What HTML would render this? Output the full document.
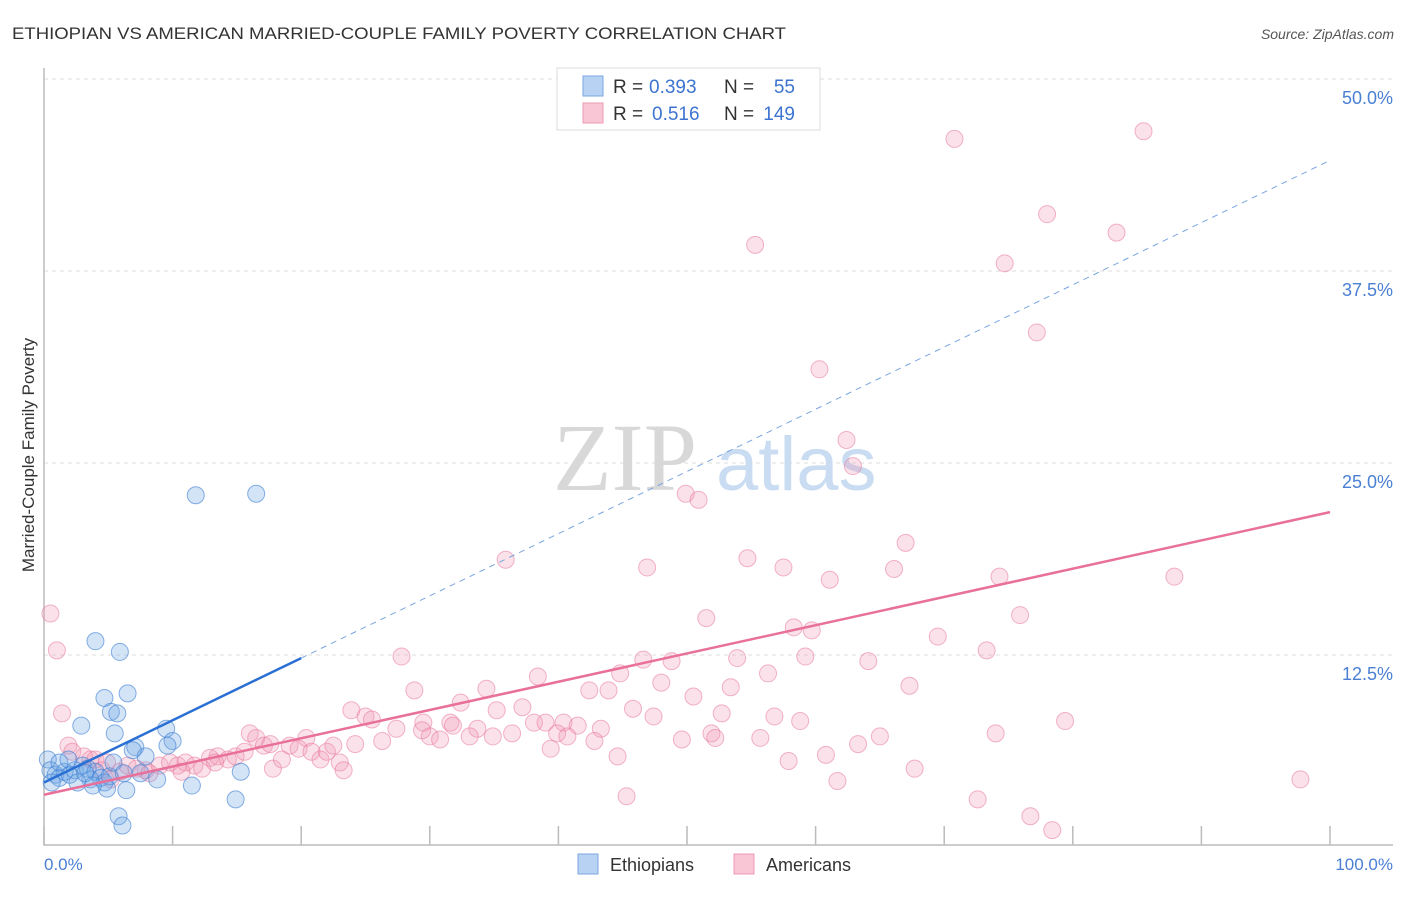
<!DOCTYPE html>
<html><head><meta charset="utf-8"><style>
body{margin:0;background:#fff;font-family:"Liberation Sans",sans-serif}
</style></head><body>
<svg id="c" width="1406" height="892" xmlns="http://www.w3.org/2000/svg" style="font-family:'Liberation Sans',sans-serif">
<text x="12" y="39" font-size="17" fill="#333" textLength="774" lengthAdjust="spacingAndGlyphs">ETHIOPIAN VS AMERICAN MARRIED-COUPLE FAMILY POVERTY CORRELATION CHART</text>
<text x="1394" y="39" font-size="14" fill="#555" font-style="italic" text-anchor="end">Source: ZipAtlas.com</text>
<g id="grid"></g>
<g><text x="553" y="490" font-size="96" fill="#d8d8d8" font-family="'Liberation Serif',serif">ZIP</text><text x="716" y="490" font-size="76" fill="#c9dcf2">atlas</text></g>
<g id="marks"></g>
<text transform="translate(34,455) rotate(-90)" font-size="17" fill="#333" text-anchor="middle">Married-Couple Family Poverty</text>
<text x="44" y="870" font-size="17" fill="#4a7fd4">0.0%</text>
<text x="1393" y="870" font-size="17" fill="#4a7fd4" text-anchor="end">100.0%</text>
<g>
<rect x="557" y="68" width="263" height="62" fill="#fff" stroke="#ddd"/>
<rect x="583" y="76" width="20" height="20" fill="#b8d2f4" stroke="#7aa5e0"/>
<rect x="583" y="103" width="20" height="20" fill="#f9c6d5" stroke="#eb9ab2"/>
<text x="613" y="93" font-size="19" fill="#333">R =</text>
<text x="649" y="93" font-size="19" fill="#3c74d0">0.393</text>
<text x="724" y="93" font-size="19" fill="#333">N =</text>
<text x="795" y="93" font-size="19" fill="#3c74d0" text-anchor="end">55</text>
<text x="613" y="120" font-size="19" fill="#333">R =</text>
<text x="652" y="120" font-size="19" fill="#3c74d0">0.516</text>
<text x="724" y="120" font-size="19" fill="#333">N =</text>
<text x="795" y="120" font-size="19" fill="#3c74d0" text-anchor="end">149</text>
</g>
<g>
<rect x="578" y="854" width="20" height="20" fill="#b8d2f4" stroke="#7aa5e0"/>
<text x="610" y="871" font-size="18" fill="#333">Ethiopians</text>
<rect x="734" y="854" width="20" height="20" fill="#f9c6d5" stroke="#eb9ab2"/>
<text x="766" y="871" font-size="18" fill="#333">Americans</text>
</g>
</svg>
<script>
const yTicks=[12.5,25,37.5,50];
const yTickLabels=["12.5%","25.0%","37.5%","50.0%"];
const xTicks=[0,10,20,30,40,50,60,70,80,90,100];
const blueX=[11.8,16.5,4.0,5.9,4.7,6.5,5.2,5.7,2.9,5.5,9.5,7.1,10.0,9.6,7.9,0.3,0.5,0.9,1.2,0.6,1.6,2.0,2.4,3.0,3.4,4.0,4.4,4.7,5.1,3.6,2.6,5.4,6.2,7.5,8.8,15.3,11.5,6.4,4.9,14.9,5.8,6.1,1.2,1.9,3.2,3.8,6.9];
const blueY=[22.9,23.0,13.4,12.7,9.7,10.0,8.8,8.7,7.9,7.4,7.7,6.5,6.9,6.6,5.9,5.7,5.0,4.7,4.5,4.2,4.9,4.7,5.0,5.3,5.1,4.9,4.5,4.2,4.6,4.4,4.2,5.5,4.8,4.8,4.4,4.9,4.0,3.7,3.8,3.1,2.0,1.4,5.5,5.7,4.8,4.0,6.3];
const pinkX=[70.8,85.5,78.0,83.4,55.3,74.7,77.2,60.3,62.4,62.9,49.9,50.9,35.9,46.9,54.7,57.5,61.1,66.1,67.0,74.3,87.9,51.5,75.9,58.3,59.7,69.5,73.3,27.8,46.6,48.8,53.9,59.2,64.1,38.4,44.8,56.3,48.0,28.8,34.4,42.4,43.9,53.4,67.3,50.5,32.4,37.2,35.2,45.8,47.4,52.7,56.8,58.8,79.4,23.9,25.0,25.5,27.4,29.5,31.6,31.8,38.1,39.0,40.4,41.5,43.3,39.9,40.7,33.7,30.0,33.1,34.9,36.4,30.8,51.9,52.2,49.6,55.7,65.0,63.3,74.0,26.3,24.2,39.4,42.8,44.6,60.8,57.9,67.7,61.7,45.3,72.6,76.7,78.4,97.7,0.5,1.0,1.4,1.9,2.2,3.6,4.0,5.9,6.5,7.2,7.9,9.0,9.8,10.4,11.0,11.7,12.3,12.9,13.5,14.3,14.9,15.6,16.0,16.5,17.1,17.8,18.5,19.1,19.8,20.4,20.8,21.5,22.0,22.5,23.0,23.3,29.4,17.6,13.3,10.7,8.2,5.2,4.5,3.1,4.9];
const pinkY=[46.1,46.6,41.2,40.0,39.2,38.0,33.5,31.1,26.5,24.8,23.0,22.6,18.7,18.2,18.8,18.2,17.4,18.1,19.8,17.6,17.6,14.9,15.1,14.3,14.1,13.7,12.8,12.4,12.2,12.1,12.3,12.4,12.1,11.1,11.3,11.3,10.7,10.2,10.3,10.2,10.2,10.4,10.5,9.8,9.4,9.1,8.9,9.0,8.5,8.7,8.5,8.2,8.2,8.9,8.5,8.3,7.7,8.1,8.1,7.9,8.1,8.1,8.1,7.9,7.7,7.4,7.2,7.7,7.2,7.2,7.2,7.4,7.0,7.4,7.1,7.0,7.1,7.2,6.7,7.4,6.9,6.7,6.4,6.9,5.9,6.0,5.6,5.1,4.3,3.3,3.1,2.0,1.1,4.4,15.2,12.8,8.7,6.6,6.2,5.7,5.7,4.9,5.3,5.1,5.0,5.3,5.5,5.3,5.5,5.3,5.1,5.8,5.9,5.7,5.9,6.2,7.4,7.1,6.6,5.1,5.7,6.6,6.4,7.1,6.2,5.7,6.2,6.6,5.5,5.0,7.6,6.7,5.5,4.9,4.8,4.4,5.0,5.9,5.5];
const blueFit=[4.2,0.405];   // intercept, slope
const pinkFit=[3.4,0.184];
const NS="http://www.w3.org/2000/svg";
const X=v=>44+v*12.86, Y=v=>847-v*15.36;
function mk(t,a,p){const e=document.createElementNS(NS,t);for(const k in a)e.setAttribute(k,a[k]);p.appendChild(e);return e;}
const g=document.getElementById('grid'), m=document.getElementById('marks');
yTicks.forEach((t,i)=>{
 const l=mk('line',{x1:44,x2:1393,y1:Y(t),y2:Y(t),stroke:'#ddd','stroke-dasharray':'4,4'},g);
 
 
 const tx=mk('text',{x:1393,y:Y(t)+25,'font-size':18,fill:'#4a7fd4','text-anchor':'end'},g);
 tx.textContent=yTickLabels[i];
 
 
});
const ax=mk('path',{d:'M44,68 V845 H1393',fill:'none',stroke:'#bbb','stroke-width':1.5},g);


xTicks.forEach(t=>{
 const l=mk('line',{x1:X(t),x2:X(t),y1:826,y2:845,stroke:'#bbb','stroke-width':1.5},g);
 
 
});
pinkX.forEach((x,i)=>{
 const c=mk('circle',{cx:X(x),cy:Y(pinkY[i]),r:8.5,fill:'rgba(242,150,178,0.28)',stroke:'rgba(232,120,155,0.55)','stroke-width':1},m);
 
 
});
blueX.forEach((x,i)=>{
 const c=mk('circle',{cx:X(x),cy:Y(blueY[i]),r:8.5,fill:'rgba(110,165,230,0.3)',stroke:'rgba(60,125,210,0.6)','stroke-width':1},m);
 
 
});
const bd=mk('line',{x1:X(20),y1:Y(blueFit[0]+blueFit[1]*20),x2:X(100),y2:Y(blueFit[0]+blueFit[1]*100),stroke:'#7aa5e0','stroke-width':1,'stroke-dasharray':'6,5'},m);


const bl=mk('line',{x1:X(0),y1:Y(blueFit[0]),x2:X(20),y2:Y(blueFit[0]+blueFit[1]*20),stroke:'#2a6fd4','stroke-width':2.5},m);


const pl=mk('line',{x1:X(0),y1:Y(pinkFit[0]),x2:X(100),y2:Y(pinkFit[0]+pinkFit[1]*100),stroke:'#e8709a','stroke-width':2.5},m);


</script>
</body></html>
